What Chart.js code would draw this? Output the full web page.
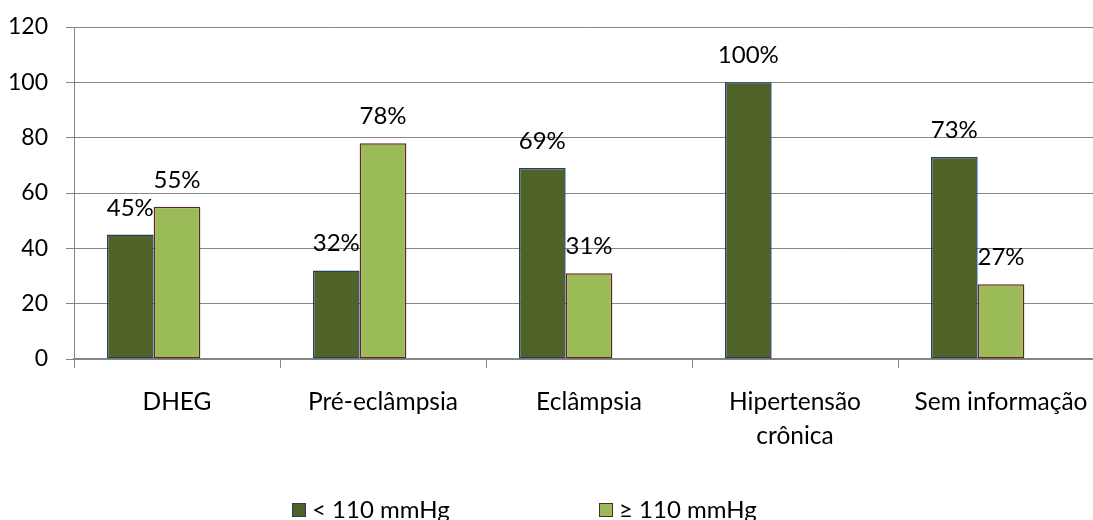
<!DOCTYPE html>
<html>
<head>
<meta charset="utf-8">
<script src="https://cdn.jsdelivr.net/npm/chart.js@4/dist/chart.umd.min.js"></script>
<style>
  html, body { margin: 0; padding: 0; background: #fff; overflow: hidden; width: 1093px; height: 520px; }
  #wrap { position: absolute; left: 0; top: 0; width: 1110px; height: 520px; }
</style>
</head>
<body>
<div id="wrap"><canvas id="c" width="1110" height="520"></canvas></div>
<script>
// Categories of hypertensive disorder
const categories = ['DHEG', 'Pré-eclâmpsia', 'Eclâmpsia', ['Hipertensão', 'crônica'], 'Sem informação'];
// Share of cases (%) by diastolic pressure group
const below110 = [45, 32, 69, 100, 73];
const atLeast110 = [55, 78, 31, null, 27];
// Unused third column of the source table (keeps the bar grouping)
const emptySlot = [null, null, null, null, null];
const seriesNames = ['< 110 mmHg', '≥ 110 mmHg'];
const yTicks = [0, 20, 40, 60, 80, 100, 120];

const FONT = 'Lato, "Open Sans", sans-serif';
const FONT_SIZE = 24;
const GRID = '#868686';
const DARK = '#4F6228', DARK_EDGE = '#243F60';
const LIGHT = '#9BBB59', LIGHT_EDGE = '#632523';

// Percentage labels above each bar
const valueLabels = {
  id: 'valueLabels',
  afterDatasetsDraw(chart) {
    const ctx = chart.ctx;
    ctx.save();
    ctx.font = FONT_SIZE + 'px ' + FONT;
    ctx.fillStyle = '#000';
    ctx.textAlign = 'center';
    ctx.textBaseline = 'alphabetic';
    [0, 1].forEach(di => {
      const meta = chart.getDatasetMeta(di);
      meta.data.forEach((bar, i) => {
        const v = chart.data.datasets[di].data[i];
        if (v === null || v === undefined) return;
        ctx.fillText(v + '%', bar.x, bar.y - 19);
      });
    });
    ctx.restore();
  }
};

// Legend row along the bottom edge
const legendRow = {
  id: 'legendRow',
  afterDraw(chart) {
    const ctx = chart.ctx;
    const itemX = [292, 599];
    const box = 14, boxTop = 503, baseline = 518;
    ctx.save();
    ctx.font = FONT_SIZE + 'px ' + FONT;
    ctx.textBaseline = 'alphabetic';
    ctx.textAlign = 'left';
    [0, 1].forEach(di => {
      const ds = chart.data.datasets[di];
      const x = itemX[di];
      ctx.fillStyle = ds.backgroundColor;
      ctx.fillRect(x, boxTop, box, box);
      ctx.strokeStyle = ds.borderColor;
      ctx.lineWidth = 1;
      ctx.strokeRect(x + 0.5, boxTop + 0.5, box - 1, box - 1);
      ctx.fillStyle = '#000';
      ctx.fillText(ds.label, x + box + 6, baseline);
    });
    ctx.restore();
  }
};

new Chart(document.getElementById('c'), {
  type: 'bar',
  data: {
    labels: categories,
    datasets: [
      { label: seriesNames[0], data: below110, backgroundColor: DARK, borderColor: DARK_EDGE, borderWidth: 1.5, borderSkipped: false },
      { label: seriesNames[1], data: atLeast110, backgroundColor: LIGHT, borderColor: LIGHT_EDGE, borderWidth: 1.5, borderSkipped: false },
      { label: '', data: emptySlot, backgroundColor: 'rgba(0,0,0,0)', borderWidth: 0 }
    ]
  },
  options: {
    responsive: false,
    animation: false,
    devicePixelRatio: 1,
    categoryPercentage: 0.68,
    barPercentage: 1.0,
    layout: { padding: { top: 27, right: 6, left: 0, bottom: 0 } },
    plugins: { legend: { display: false }, tooltip: { enabled: false } },
    scales: {
      x: {
        grid: { display: true, drawOnChartArea: false, drawTicks: true, tickLength: 9, color: GRID, offset: true },
        border: { display: true, color: GRID, width: 2 },
        ticks: { color: '#000', font: { family: FONT, size: 24.5, lineHeight: 1.35 }, padding: 18, maxRotation: 0, autoSkip: false },
        afterFit(s) { s.height = 161; }
      },
      y: {
        min: 0,
        max: 120,
        afterBuildTicks(s) { s.ticks = yTicks.map(v => ({ value: v })); },
        grid: { color: GRID, lineWidth: 1, tickLength: 8, drawTicks: true },
        border: { display: true, color: GRID, width: 1 },
        ticks: { color: '#000', font: { family: FONT, size: 23 }, padding: 18 },
        afterFit(s) { s.width = 74; s.paddingTop = 0; s.paddingBottom = 0; }
      }
    }
  },
  plugins: [valueLabels, legendRow]
});
</script>
</body>
</html>
